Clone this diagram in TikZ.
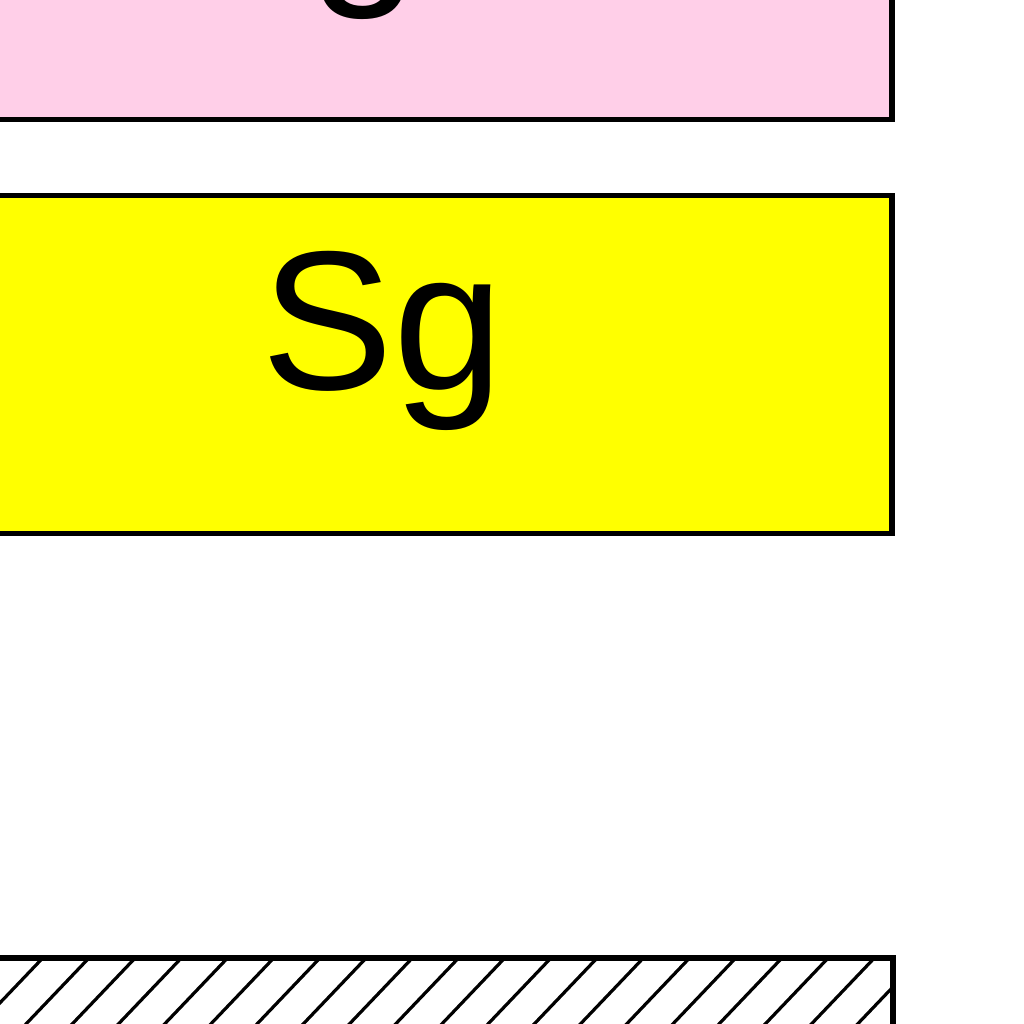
\documentclass[tikz,border=0pt]{standalone}
\usepackage{fontspec}
\setmainfont{Liberation Sans}
\definecolor{boxpink}{HTML}{FFCFE8}
\definecolor{boxyellow}{HTML}{FFFF00}
\tikzset{
  x=1pt, y=-1pt,
  panel/.style={draw=black, line width=5.5pt, line join=miter},
  bigtext/.style={inner sep=0pt, font=\fontsize{198}{200}\selectfont},
  hatchline/.style={draw=black, line width=3.2pt}
}
\begin{document}
\begin{tikzpicture}
\useasboundingbox (0,0) rectangle (1024,1024);
\clip (0,0) rectangle (1024,1024);
% pink box (cut at top and left)
\path[panel, fill=boxpink] (-60,-400) rectangle (892,119.5);
\node[bigtext, anchor=base west] (pinktext) at (309,-21.5) {g};
% yellow box
\path[panel, fill=boxyellow] (-60,195.5) rectangle (892,533.5);
\node[bigtext, anchor=base] (sg) at (383,389) {Sg};
% hatched box (cut at bottom and left)
\fill[white] (-60,958) rectangle (893,1200);
\begin{scope}
  \clip (-60,958) rectangle (893,1200);
  \foreach \k in {-4,...,22} {
    \draw[hatchline] ({43+46.2*\k+15},{958-16}) -- ({43+46.2*\k-150},{958+157});
  }
\end{scope}
\path[panel] (-60,958) rectangle (893,1200);
\end{tikzpicture}
\end{document}
